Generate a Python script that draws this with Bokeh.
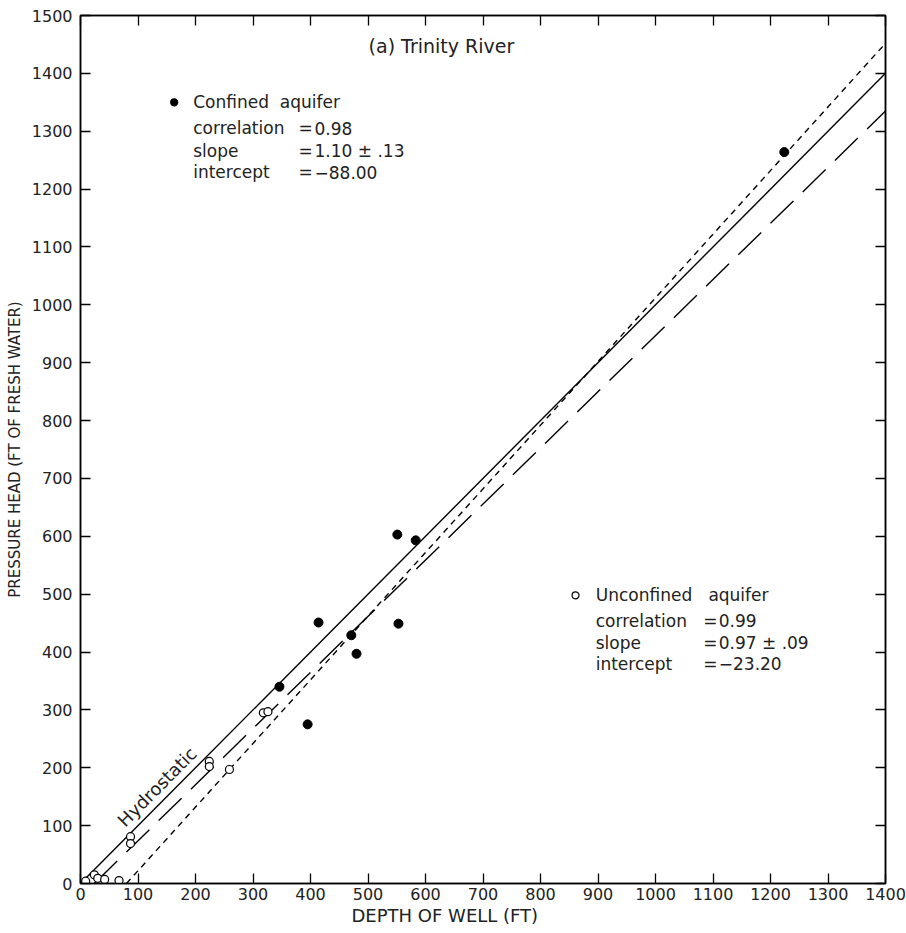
from bokeh.plotting import figure
from bokeh.models import LinearAxis, FixedTicker, Range1d, Label, Title
from bokeh.embed import file_html
from bokeh.resources import INLINE

# ---- data ----
confined_depth = [1224, 551, 583, 414, 553, 471, 480, 346, 395]
confined_head = [1264, 603, 593, 451, 449, 429, 397, 340, 275]

unconfined_depth = [318, 326, 224, 224, 259, 87, 87, 9, 24, 30, 42, 67]
unconfined_head = [295, 297, 211, 202, 197, 81, 69, 4, 15, 9, 7, 5]

hydro_x = [0, 1400]
hydro_y = [0, 1400]

confined_slope, confined_intercept = 1.10, -88.00
unconfined_slope, unconfined_intercept = 0.97, -23.20
confined_fit_x = [80, 1400]
unconfined_fit_x = [24, 1400]

x_ticks = list(range(0, 1401, 100))
y_ticks = list(range(0, 1501, 100))

FONT = "DejaVu Sans"
TXT = "#222222"
NB = "\u00a0"

p = figure(width=906, height=933, x_range=Range1d(0, 1400), y_range=Range1d(0, 1500),
           output_backend="svg", toolbar_location=None,
           min_border_left=80, min_border_right=21, min_border_top=15, min_border_bottom=50)
p.xgrid.visible = False
p.ygrid.visible = False
p.outline_line_color = "black"
p.outline_line_width = 1.5
p.background_fill_color = "white"
p.border_fill_color = "white"


def style(ax, ticks, labels=True):
    ax.ticker = FixedTicker(ticks=ticks)
    ax.major_tick_in = 10
    ax.major_tick_out = 0
    ax.minor_tick_line_color = None
    ax.axis_line_color = "black"
    ax.axis_line_width = 1.5
    ax.major_tick_line_color = "black"
    ax.major_tick_line_width = 1.3
    if labels:
        ax.major_label_text_font = FONT
        ax.major_label_text_font_size = "16px"
        ax.major_label_text_color = TXT
        ax.axis_label_text_font = FONT
        ax.axis_label_text_font_size = "15px"
        ax.axis_label_text_font_style = "normal"
        ax.axis_label_text_color = TXT
    else:
        ax.major_label_text_color = None
        ax.major_label_standoff = 0


style(p.xaxis[0], x_ticks)
style(p.yaxis[0], y_ticks)
p.yaxis[0].axis_label = "PRESSURE HEAD (FT OF FRESH WATER)"
p.xaxis[0].major_label_standoff = 4
p.yaxis[0].major_label_standoff = 8
p.yaxis[0].axis_label_standoff = 5

top = LinearAxis()
style(top, x_ticks, labels=False)
p.add_layout(top, "above")
right = LinearAxis()
style(right, y_ticks, labels=False)
p.add_layout(right, "right")

# x axis title (sits left of centre in the reference)
p.add_layout(Title(text="DEPTH OF WELL (FT)", text_font=FONT, text_font_size="18px",
                   text_font_style="normal", text_color=TXT, align="left",
                   offset=271, standoff=0), "below")

# lines
p.line(hydro_x, hydro_y, line_color="black", line_width=1.4)
p.line(confined_fit_x, [confined_slope * x + confined_intercept for x in confined_fit_x],
       line_color="black", line_width=1.4, line_dash="6 5")
p.line(unconfined_fit_x, [unconfined_slope * x + unconfined_intercept for x in unconfined_fit_x],
       line_color="black", line_width=1.4, line_dash="32 13")

# points
p.scatter(confined_depth, confined_head, size=9, marker="circle",
          fill_color="black", line_color="black")
p.scatter(unconfined_depth, unconfined_head, size=8, marker="circle",
          fill_color="white", line_color="black", line_width=1.2)

# title
p.add_layout(Label(x=501, y=1448, text="(a) Trinity River", text_font=FONT,
                   text_font_size="19px", text_color=TXT, text_baseline="middle"))

# hydrostatic label
p.add_layout(Label(x=70, y=104, text="Hydrostatic", text_font=FONT, angle=0.788,
                   text_font_size="18px", text_color=TXT, text_baseline="alphabetic"))

# legend blocks
def block(bx, by, filled, rows_y, lx, eqx, vx, head, rows):
    p.scatter([bx], [by], size=7, marker="circle",
              fill_color="black" if filled else "white", line_color="black", line_width=1.2)
    p.add_layout(Label(x=lx, y=rows_y[0], text=head, text_font=FONT,
                       text_font_size="17px", text_color=TXT, text_baseline="middle"))
    for yy, (name, val) in zip(rows_y[1:], rows):
        p.add_layout(Label(x=lx, y=yy, text=name, text_font=FONT,
                           text_font_size="17px", text_color=TXT, text_baseline="middle"))
        p.add_layout(Label(x=eqx, y=yy, text="=", text_font=FONT,
                           text_font_size="17px", text_color=TXT, text_baseline="middle"))
        p.add_layout(Label(x=vx, y=yy, text=val, text_font=FONT,
                           text_font_size="17px", text_color=TXT, text_baseline="middle"))


block(163, 1350, True, [1350, 1305, 1266, 1229], 196, 379, 407,
      "Confined" + NB * 2 + "aquifer",
      [("correlation", "0.98"), ("slope", "1.10 ± .13"), ("intercept", "−88.00")])
block(861, 498, False, [498, 454, 416, 380], 896, 1083, 1110,
      "Unconfined" + NB * 3 + "aquifer",
      [("correlation", "0.99"), ("slope", "0.97 ± .09"), ("intercept", "−23.20")])

open("out.html", "w").write(file_html(p, INLINE))
